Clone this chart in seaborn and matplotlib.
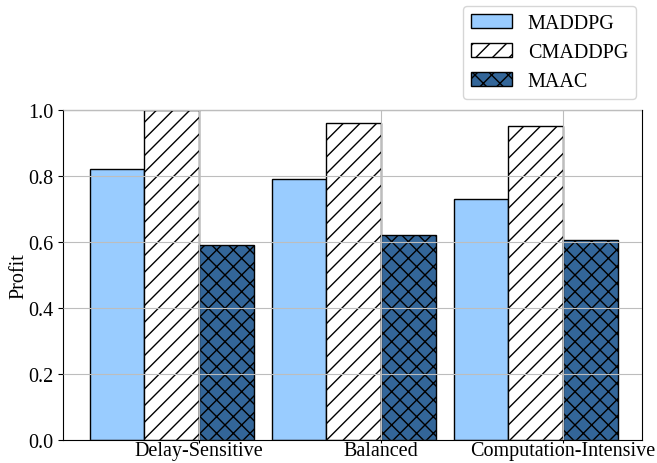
import matplotlib
matplotlib.use("Agg")
import matplotlib.pyplot as plt
import seaborn as sns
import pandas as pd

scenarios = ["Delay-Sensitive", "Balanced", "Computation-Intensive"]
methods = ["MADDPG", "CMADDPG", "MAAC"]
maddpg = [0.82, 0.79, 0.73]
cmaddpg = [1.00, 0.96, 0.95]
maac = [0.59, 0.62, 0.605]

colors = ["#99CCFF", "#FFFFFF", "#336699"]
hatches = ["", "//", "xx"]

plt.rcParams["font.family"] = ["Liberation Serif", "DejaVu Serif"]
plt.rcParams["font.size"] = 14.5
plt.rcParams["hatch.linewidth"] = 1.0

df = pd.DataFrame({
    "Scenario": scenarios * 3,
    "Method": [m for m in methods for _ in scenarios],
    "Profit": maddpg + cmaddpg + maac,
})

fig = plt.figure(figsize=(6.57, 4.64), dpi=100)
ax = fig.add_axes([0.0959, 0.0496, 0.977 - 0.0959, 0.7608 - 0.0496])

sns.barplot(data=df, x="Scenario", y="Profit", hue="Method",
            order=scenarios, hue_order=methods, palette=colors,
            width=0.9, errorbar=None, edgecolor="black", linewidth=1.0,
            legend=False, ax=ax)

for container, hatch, color in zip(ax.containers, hatches, colors):
    for bar in container:
        bar.set_hatch(hatch)
        bar.set_facecolor(color)
        bar.set_edgecolor("black")

# ticks sit at the boundary between the 2nd and 3rd bar of each group
ax.set_xticks([i + 0.15 for i in range(len(scenarios))])
ax.set_xticklabels(scenarios)
ax.set_xlim(-0.597, 2.584)
ax.set_ylim(0, 1.0)
ax.set_yticks([0.0, 0.2, 0.4, 0.6, 0.8, 1.0])
ax.tick_params(axis="x", length=2.5, pad=-1.5)
ax.set_xlabel("")
ax.set_ylabel("Profit", labelpad=-0.5)

ax.grid(True, color="#bdbdbd", linewidth=0.8)
ax.set_axisbelow(False)

ax.legend([c[0] for c in ax.containers], methods, loc="lower right",
          bbox_to_anchor=(0.99, 1.033), borderaxespad=0, fontsize=14.5)

fig.savefig("out.png", dpi=100)
